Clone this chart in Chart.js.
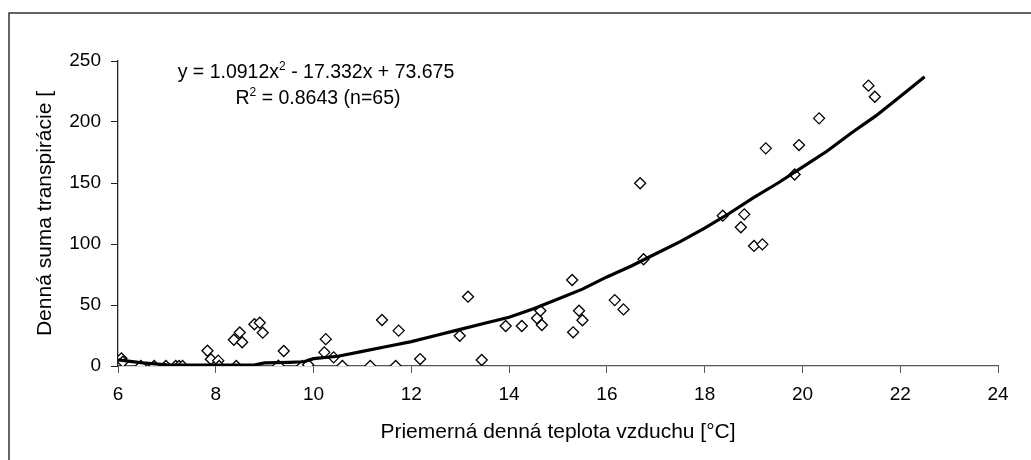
<!DOCTYPE html>
<html lang="sk">
<head>
    <meta charset="UTF-8">
    <title>Transpirácia vs. teplota</title>
    <style>
        body { margin: 0; background: #fff; }
        canvas { display: block; }
    </style>
    <script src="https://cdn.jsdelivr.net/npm/chart.js"></script>
</head>
<body>
    <canvas id="chart" width="1031" height="460"></canvas>

    <script>
        // measured points (air temperature, daily transpiration)
        const tempX = [6.07, 6.1, 6.47, 6.74, 6.98, 7.18, 7.25, 7.32, 7.83, 7.9,
                       8.05, 8.07, 8.37, 8.49, 8.54, 8.42, 8.79, 8.9, 8.96, 9.28,
                       9.39, 9.77, 9.89, 10.25, 10.22, 10.41, 10.59, 11.16, 11.4, 11.68,
                       11.74, 12.18, 12.99, 13.16, 13.44, 13.93, 14.26, 14.57, 14.64, 14.67,
                       15.29, 15.31, 15.43, 15.5, 16.16, 16.34, 16.68, 16.75, 18.37, 18.74,
                       18.81, 19.01, 19.18, 19.25, 19.84, 19.93, 20.34, 21.35, 21.48];
        const transpY = [6.3, 3.5, 0, 0, 0, 0, 0, 0, 12.5, 5.5,
                         4.4, 0, 21.5, 27.5, 19.5, 0, 34.2, 35.5, 27.3, 0.3,
                         12.3, 0, 1, 22, 11.2, 7.1, 0, 0, 37.7, 0,
                         29, 5.7, 24.8, 56.8, 4.9, 32.8, 32.8, 39.1, 45.3, 33.6,
                         70.5, 27.6, 45.3, 37.5, 54, 46.4, 149.8, 87.5, 123.2, 113.7,
                         124.3, 98.4, 99.7, 178.4, 157, 181.1, 203, 229.8, 220.7];

        // regression curve as drawn in the figure
        const trendX = [6, 6.5, 7, 7.5, 8, 8.5, 8.8, 9, 9.5, 9.8, 10, 10.5, 11, 11.5, 12, 12.5,
                        13, 13.5, 14, 14.5, 15, 15.5, 16, 16.5, 17, 17.5, 18, 18.5, 19, 19.5,
                        20, 20.5, 21, 21.5, 22, 22.5];
        const trendY = [5, 2.5, 1, 0.8, 0.8, 0.8, 1, 2.5, 3, 3.5, 6, 8, 12, 16, 20, 25,
                        30, 35, 40, 47, 55, 63, 73, 82, 92, 102, 113, 125, 138, 150,
                        163, 176, 191, 205, 221, 237];

        const xTicks = [6, 8, 10, 12, 14, 16, 18, 20, 22, 24];
        const yTicks = [0, 50, 100, 150, 200, 250];

        const eqLine1 = ['y = 1.0912x', '2', ' - 17.332x + 73.675'];
        const eqLine2 = ['R', '2', ' = 0.8643 (n=65)'];

        const FONT = 'Arial, "Liberation Sans", sans-serif';

        const points = tempX.map((x, i) => ({ x: x, y: transpY[i] }));
        const trend = trendX.map((x, i) => ({ x: x, y: trendY[i] }));

        // draws a text with one superscript, centered on cx
        function drawSup(ctx, parts, cx, cy, size) {
            const supSize = Math.round(size * 0.62);
            ctx.font = size + 'px ' + FONT;
            const w0 = ctx.measureText(parts[0]).width;
            const w2 = ctx.measureText(parts[2]).width;
            ctx.font = supSize + 'px ' + FONT;
            const w1 = ctx.measureText(parts[1]).width;
            let x = cx - (w0 + w1 + w2) / 2;
            ctx.textBaseline = 'alphabetic';
            ctx.textAlign = 'left';
            ctx.font = size + 'px ' + FONT;
            ctx.fillText(parts[0], x, cy);
            x += w0;
            ctx.font = supSize + 'px ' + FONT;
            ctx.fillText(parts[1], x, cy - size * 0.42);
            x += w1;
            ctx.font = size + 'px ' + FONT;
            ctx.fillText(parts[2], x, cy);
        }

        const extras = {
            id: 'extras',
            beforeDraw(chart) {
                const ctx = chart.ctx;
                ctx.save();
                ctx.fillStyle = '#fff';
                ctx.fillRect(0, 0, chart.width, chart.height);
                // outer frame (left and top edges visible)
                ctx.strokeStyle = '#333';
                ctx.lineWidth = 1.5;
                ctx.beginPath();
                ctx.moveTo(9, chart.height);
                ctx.lineTo(9, 13);
                ctx.lineTo(chart.width, 13);
                ctx.stroke();
                ctx.restore();
            },
            afterDraw(chart) {
                const ctx = chart.ctx;
                ctx.save();
                ctx.fillStyle = '#000';
                drawSup(ctx, eqLine1, 316, 78, 19.5);
                drawSup(ctx, eqLine2, 318, 104, 19.5);
                ctx.restore();
            }
        };

        new Chart(document.getElementById('chart'), {
            type: 'scatter',
            data: {
                datasets: [{
                    label: 'Merania',
                    data: points,
                    pointStyle: 'rectRot',
                    pointRadius: 5.5,
                    pointHoverRadius: 5.5,
                    pointBackgroundColor: '#fff',
                    pointBorderColor: '#000',
                    pointBorderWidth: 1.3,
                    showLine: false,
                    order: 1
                }, {
                    label: 'Trend',
                    data: trend,
                    showLine: true,
                    borderColor: '#000',
                    borderWidth: 3.2,
                    pointRadius: 0,
                    tension: 0,
                    order: 0
                }]
            },
            options: {
                responsive: false,
                animation: false,
                devicePixelRatio: 1,
                layout: { padding: { top: 61, right: 33, left: 0, bottom: 0 } },
                plugins: {
                    legend: { display: false },
                    tooltip: { enabled: false }
                },
                scales: {
                    x: {
                        type: 'linear',
                        min: 6,
                        max: 24,
                        afterBuildTicks: s => { s.ticks = xTicks.map(v => ({ value: v })); },
                        afterFit: s => { s.height = 94; },
                        border: { color: '#555', width: 1.3 },
                        grid: { drawOnChartArea: false, tickLength: 7, color: '#555' },
                        ticks: { color: '#000', padding: 10, font: { family: FONT, size: 19 } },
                        title: {
                            display: true,
                            text: 'Priemerná denná teplota vzduchu [°C]',
                            color: '#000',
                            font: { family: FONT, size: 21 },
                            padding: { top: 0, bottom: 15 }
                        }
                    },
                    y: {
                        min: 0,
                        max: 250,
                        afterBuildTicks: s => { s.ticks = yTicks.map(v => ({ value: v })); },
                        afterFit: s => { s.width = 118; },
                        border: { color: '#222', width: 1.3 },
                        grid: { drawOnChartArea: false, tickLength: 7, color: '#222' },
                        ticks: { color: '#000', padding: 10, font: { family: FONT, size: 19 } },
                        title: {
                            display: true,
                            text: 'Denná suma transpirácie [',
                            color: '#000',
                            font: { family: FONT, size: 21 },
                            padding: { top: 33, bottom: 0 }
                        }
                    }
                }
            },
            plugins: [extras]
        });
    </script>
</body>
</html>
